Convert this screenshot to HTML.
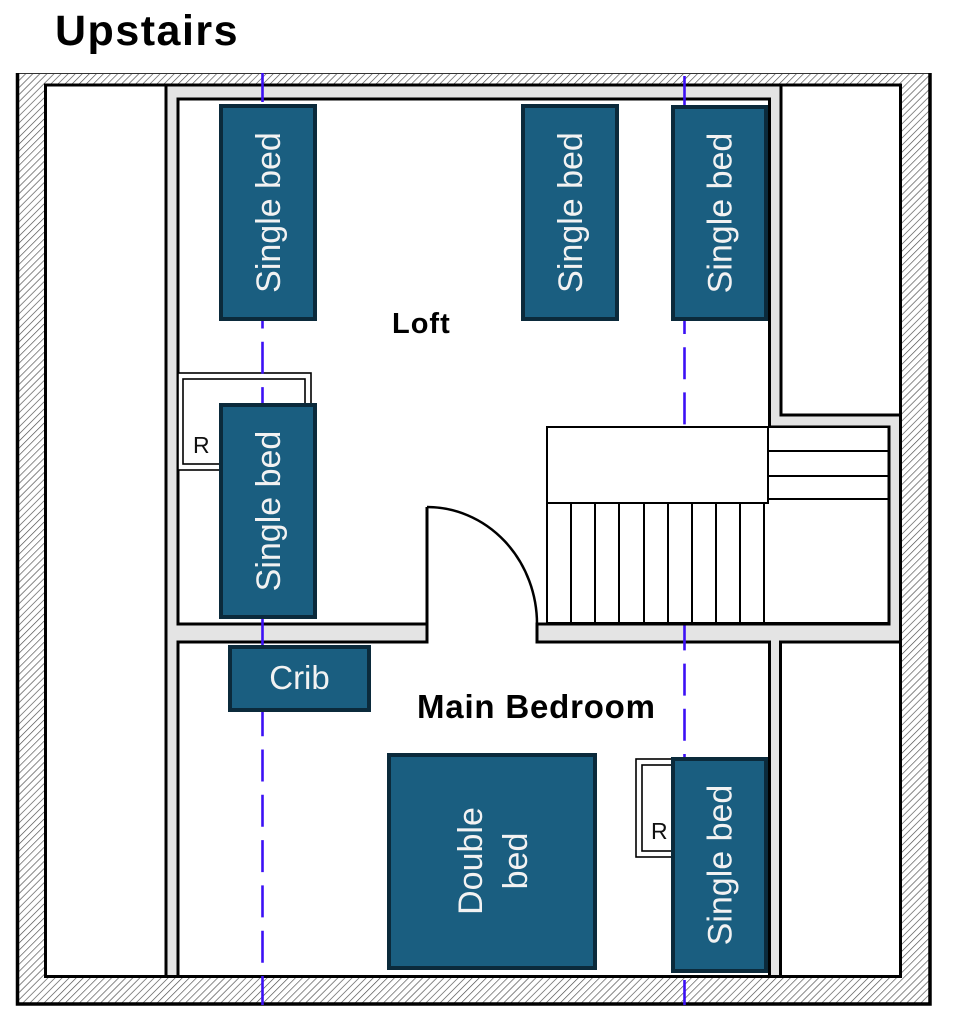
<!DOCTYPE html>
<html>
<head>
<meta charset="utf-8">
<style>
html,body{margin:0;padding:0;background:#fff;}
svg{display:block;}
</style>
</head>
<body>
<svg width="956" height="1024" viewBox="0 0 956 1024" xmlns="http://www.w3.org/2000/svg">
<defs>
<pattern id="hatch" patternUnits="userSpaceOnUse" width="5" height="5" patternTransform="rotate(45)">
<rect width="5" height="5" fill="#fff"/>
<line x1="0" y1="0" x2="0" y2="5" stroke="#4a4a4a" stroke-width="1.3"/>
</pattern>
</defs>

<rect x="0" y="0" width="956" height="1024" fill="#fff"/>

<!-- Title -->
<text x="55" y="45" font-family="Liberation Sans, Arial, sans-serif" font-weight="bold" font-size="43" letter-spacing="1.5" fill="#000">Upstairs</text>

<!-- Outer hatched wall -->
<rect x="17" y="73" width="913" height="932" fill="url(#hatch)"/>
<line x1="17" y1="73.5" x2="930" y2="73.5" stroke="#333" stroke-width="1"/>
<path d="M17.5,73 V1004 H930 V73" fill="none" stroke="#000" stroke-width="3.5"/>

<!-- Gray inner area -->
<rect x="45.5" y="85" width="855" height="891.5" fill="#e4e4e4" stroke="#000" stroke-width="3"/>

<!-- Left closet -->
<rect x="45.5" y="85" width="120.5" height="891.5" fill="#fff" stroke="#000" stroke-width="3"/>
<!-- Right upper closet -->
<rect x="781" y="85" width="119.5" height="330" fill="#fff" stroke="#000" stroke-width="3"/>
<!-- Right lower closet -->
<rect x="780.5" y="642" width="120" height="334.5" fill="#fff" stroke="#000" stroke-width="3"/>

<!-- Loft fill -->
<path d="M178,99 H769.5 V427 H889 V624 H178 Z" fill="#fff"/>
<!-- Door opening fill -->
<rect x="427" y="620" width="110" height="26" fill="#fff"/>
<!-- Bedroom fill -->
<rect x="178" y="642" width="591.5" height="334.5" fill="#fff"/>

<!-- Loft strokes -->
<path d="M427,624 H178 V99 H769.5 V427 H889 V624 H537" fill="none" stroke="#000" stroke-width="3"/>
<!-- Bedroom strokes -->
<path d="M427,642 H178 V977" fill="none" stroke="#000" stroke-width="3"/>
<path d="M537,642 H769.5 V977" fill="none" stroke="#000" stroke-width="3"/>
<!-- Door end caps -->
<path d="M427,622.5 V643.5 M537,622.5 V643.5" fill="none" stroke="#000" stroke-width="3"/>
<!-- re-stroke bottom inner wall line -->
<line x1="44" y1="976.5" x2="902" y2="976.5" stroke="#000" stroke-width="3"/>

<!-- Door leaf and swing -->
<path d="M427,624 V507" fill="none" stroke="#000" stroke-width="3"/>
<path d="M427,507 A110,117 0 0 1 537,624" fill="none" stroke="#000" stroke-width="2.5"/>

<!-- R box loft -->
<rect x="178" y="373" width="133" height="97" fill="#fff" stroke="#000" stroke-width="1.6"/>
<rect x="183" y="379" width="122" height="85" fill="#fff" stroke="#000" stroke-width="1.6"/>
<text x="193" y="453" font-family="Liberation Sans, Arial, sans-serif" font-size="23" fill="#111">R</text>

<!-- R box bedroom -->
<rect x="636" y="759" width="54" height="98" fill="#fff" stroke="#000" stroke-width="1.6"/>
<rect x="642" y="765" width="42" height="86" fill="#fff" stroke="#000" stroke-width="1.6"/>
<text x="651" y="839" font-family="Liberation Sans, Arial, sans-serif" font-size="23" fill="#111">R</text>

<!-- Blue dashed lines -->
<line x1="262.5" y1="73" x2="262.5" y2="1005" stroke="#3c10f5" stroke-width="2.6" stroke-dasharray="32 13.3" stroke-dashoffset="3"/>
<line x1="684.5" y1="73" x2="684.5" y2="1005" stroke="#3c10f5" stroke-width="2.6" stroke-dasharray="32 13.2" stroke-dashoffset="42.2"/>

<!-- Stairs -->
<rect x="547" y="427" width="342" height="196" fill="#fff" stroke="#000" stroke-width="2"/>
<rect x="547" y="427" width="221" height="76" fill="#fff" stroke="#000" stroke-width="2"/>
<g stroke="#000" stroke-width="2">
<line x1="768" y1="451" x2="889" y2="451"/>
<line x1="768" y1="476" x2="889" y2="476"/>
<line x1="768" y1="499" x2="889" y2="499"/>
<line x1="571" y1="503" x2="571" y2="623"/>
<line x1="595" y1="503" x2="595" y2="623"/>
<line x1="619" y1="503" x2="619" y2="623"/>
<line x1="644" y1="503" x2="644" y2="623"/>
<line x1="668" y1="503" x2="668" y2="623"/>
<line x1="692" y1="503" x2="692" y2="623"/>
<line x1="716" y1="503" x2="716" y2="623"/>
<line x1="740" y1="503" x2="740" y2="623"/>
<line x1="764" y1="503" x2="764" y2="623"/>
</g>
<line x1="545" y1="624" x2="890" y2="624" stroke="#000" stroke-width="3"/>
<line x1="889" y1="425.5" x2="889" y2="625" stroke="#000" stroke-width="3"/>

<!-- Beds -->
<g fill="#1a5e80" stroke="#0b2a3b" stroke-width="4">
<rect x="221" y="106" width="94" height="213"/>
<rect x="523" y="106" width="94" height="213"/>
<rect x="673" y="107" width="93" height="212"/>
<rect x="221" y="405" width="94" height="212"/>
<rect x="230" y="647" width="139" height="63"/>
<rect x="389" y="755" width="206" height="213"/>
<rect x="673" y="759" width="93" height="212"/>
</g>

<g font-family="Liberation Sans, Arial, sans-serif" font-size="34" fill="#f2f2f2" text-anchor="middle">
<text x="268" y="224.5" transform="rotate(-90 268 212.5)">Single bed</text>
<text x="570" y="224.5" transform="rotate(-90 570 212.5)">Single bed</text>
<text x="719.5" y="225" transform="rotate(-90 719.5 213)">Single bed</text>
<text x="268" y="523" transform="rotate(-90 268 511)">Single bed</text>
<text x="719.5" y="877" transform="rotate(-90 719.5 865)">Single bed</text>
<text x="492" y="851" transform="rotate(-90 492 861)">Double</text>
<text x="492" y="896" transform="rotate(-90 492 861)">bed</text>
<text x="299.5" y="689" font-size="33">Crib</text>
</g>

<!-- Room labels -->
<text x="392" y="333" font-family="Liberation Sans, Arial, sans-serif" font-weight="bold" font-size="29" letter-spacing="1" fill="#000">Loft</text>
<text x="417" y="718" font-family="Liberation Sans, Arial, sans-serif" font-weight="bold" font-size="33" letter-spacing="0.8" fill="#000">Main Bedroom</text>
</svg>
</body>
</html>
